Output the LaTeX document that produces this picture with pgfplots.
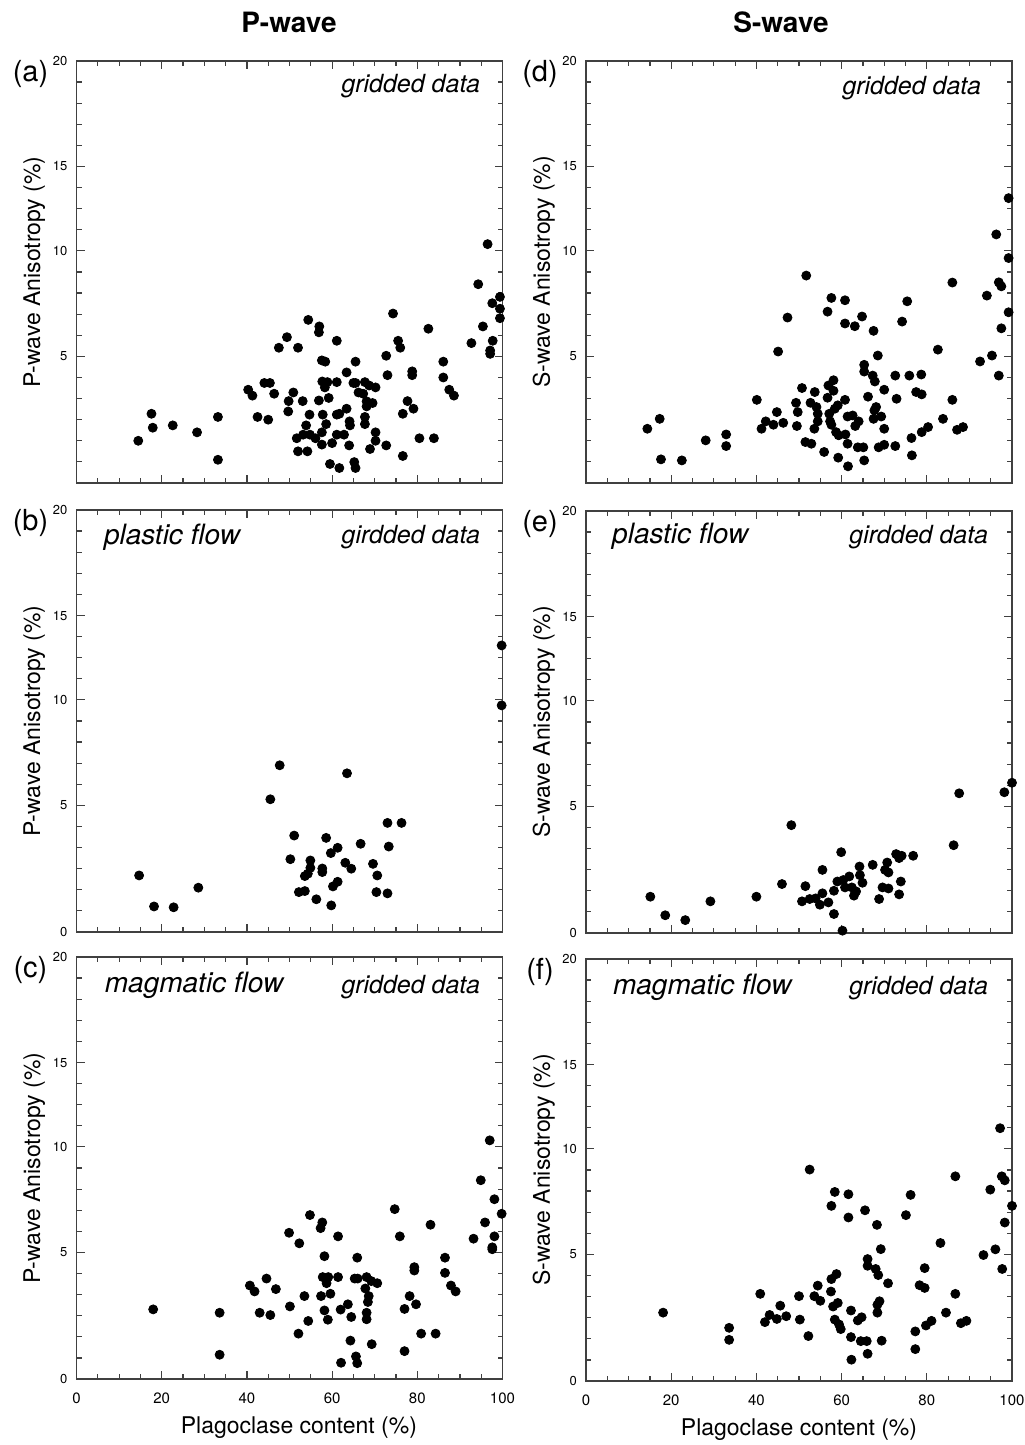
\documentclass[border=0pt]{standalone}
\usepackage{pgfplots}
\usepackage{pgfplotstable}
\pgfplotsset{compat=1.18}
\usepackage{fontspec}
\setmainfont{TeX Gyre Heros}

\pgfplotstableread{
x y
14.5 2.00
17.6 3.28
17.9 2.62
22.6 2.73
28.3 2.40
33.2 3.13
33.2 1.10
40.3 4.42
41.3 4.14
42.5 3.13
44.1 4.74
45.4 4.74
46.4 4.23
45.0 3.00
47.5 6.41
49.4 6.91
49.8 3.88
49.7 3.39
50.9 4.29
52.0 6.41
53.1 3.88
51.7 2.12
52.0 1.50
53.2 2.29
53.9 2.73
54.2 1.50
54.4 7.73
54.7 3.24
54.8 2.29
56.1 2.12
57.0 7.42
56.9 7.14
56.9 3.91
57.6 5.81
58.4 5.75
57.7 4.81
58.9 4.78
58.3 4.53
59.2 4.03
57.8 3.24
58.6 2.79
57.6 2.40
57.6 1.82
60.0 1.89
59.5 0.90
61.1 6.74
61.1 4.78
61.1 3.24
61.7 3.28
61.1 2.29
61.7 0.71
62.8 2.29
63.4 3.52
63.4 5.24
64.1 2.92
64.2 2.73
64.0 1.78
65.0 4.74
65.5 5.75
65.5 4.74
66.2 4.29
65.2 0.99
65.5 0.71
67.3 4.23
67.7 4.78
68.7 4.62
70.2 4.53
68.1 3.87
69.5 3.79
68.1 3.63
67.7 3.13
67.7 2.79
70.2 2.40
70.2 2.00
68.9 1.61
72.7 1.78
72.7 6.03
73.0 5.11
74.3 8.03
75.5 6.74
76.0 6.41
77.7 3.88
76.6 3.28
76.6 1.28
78.8 5.29
78.8 5.11
79.1 3.52
80.5 2.12
82.6 7.31
83.9 2.12
86.1 5.75
86.1 5.00
87.5 4.42
88.6 4.14
92.7 6.63
95.4 7.42
94.3 9.42
96.5 11.32
97.6 8.52
97.7 6.74
97.1 6.28
97.1 6.12
99.4 8.82
99.4 8.26
99.4 7.81
}\dataA

\pgfplotstableread{
x y
14.4 2.57
17.3 3.04
17.6 1.12
22.5 1.07
28.1 2.02
32.9 2.30
32.9 1.75
40.1 3.94
41.2 2.57
42.2 2.92
44.0 2.76
44.8 3.36
45.1 6.23
46.3 2.85
47.3 7.84
49.3 3.80
49.7 3.36
49.5 2.70
50.7 4.50
51.7 9.83
51.5 1.94
52.9 1.86
52.7 3.80
53.7 4.31
54.1 3.60
54.4 3.28
54.4 2.92
53.6 2.57
55.9 1.47
56.7 8.12
56.7 4.04
56.9 4.62
57.6 8.77
58.1 4.87
58.1 4.37
57.1 3.28
57.3 2.92
57.6 2.76
58.4 3.52
59.1 3.68
58.7 2.41
59.3 2.26
59.2 1.20
60.8 8.66
60.8 7.56
60.8 3.94
61.4 3.15
62.6 3.20
60.9 2.30
61.4 1.86
61.5 0.79
63.1 7.43
63.2 2.70
64.0 2.92
63.8 1.69
64.8 7.89
65.1 1.69
65.3 5.60
65.3 5.28
65.3 1.07
66.2 4.09
67.3 5.09
67.8 4.81
67.5 7.21
68.5 6.04
68.1 3.60
67.7 3.44
67.5 3.04
69.3 3.15
70.0 4.42
70.0 2.57
68.7 1.69
70.0 1.81
72.6 1.75
72.6 5.09
72.9 3.99
74.2 7.65
75.4 8.61
75.9 5.09
77.5 4.31
78.7 5.14
78.8 4.20
76.4 2.13
76.5 1.31
78.8 2.41
80.3 2.65
82.6 6.32
83.8 3.04
86.0 9.50
86.0 3.94
87.1 2.52
88.5 2.65
92.5 5.76
94.1 8.88
95.3 6.04
96.3 11.78
96.9 9.51
97.5 9.32
96.9 5.09
97.5 7.33
99.2 13.50
99.2 10.66
99.2 8.09
}\dataD

\pgfplotstableread{
x y
14.7 2.68
18.2 1.21
22.8 1.17
28.6 2.10
45.5 6.29
47.7 7.90
51.1 4.57
50.2 3.45
54.9 3.39
54.9 3.04
54.3 2.76
53.6 2.65
52.2 1.89
53.6 1.94
56.3 1.55
57.7 3.01
57.7 2.84
58.6 4.46
59.7 3.74
61.3 3.99
59.8 1.26
60.2 2.16
61.3 2.38
63.1 3.28
64.5 3.00
63.5 7.52
66.7 4.18
69.6 3.23
70.6 2.68
70.4 1.89
73.0 1.83
73.0 5.17
73.3 4.05
76.3 5.17
99.8 13.58
99.8 10.74
}\dataB

\pgfplotstableread{
x y
15.1 1.72
18.6 0.84
23.3 0.61
29.2 1.50
40.0 1.72
46.0 2.32
48.2 5.11
51.5 2.22
50.7 1.50
52.5 1.61
53.9 1.64
54.9 1.34
55.5 1.88
56.9 1.45
55.5 2.99
58.2 2.00
58.2 0.90
59.0 2.44
59.9 3.83
60.2 0.11
60.4 2.51
60.8 2.16
61.8 2.68
62.4 2.16
63.4 1.97
62.9 1.77
64.2 3.15
64.3 2.74
64.9 2.38
67.3 3.23
68.8 1.61
69.6 2.16
71.0 2.11
70.2 2.99
71.0 2.87
70.7 3.34
72.8 3.74
73.5 3.55
74.1 3.66
73.9 2.44
73.5 1.83
76.8 3.66
86.3 4.16
87.6 6.62
98.2 6.67
100.0 7.12
}\dataE

\pgfplotstableread{
x y
18.0 3.30
33.6 3.14
33.6 1.15
40.7 4.43
41.8 4.15
43.0 3.14
44.6 4.76
45.5 3.03
46.8 4.26
49.9 6.93
50.1 3.44
52.3 6.43
52.1 2.15
53.5 3.93
54.4 2.75
54.8 7.77
57.7 7.42
57.3 7.15
58.2 5.82
57.4 3.93
57.8 4.83
59.1 4.83
58.7 4.54
59.6 4.04
58.2 3.25
59.0 2.81
61.4 6.76
61.4 4.83
62.0 3.29
63.7 3.54
64.5 2.94
64.3 1.82
62.1 0.77
65.3 4.76
65.9 5.75
66.0 4.76
65.6 1.07
65.9 0.75
68.1 4.83
69.2 4.64
70.6 4.54
67.8 4.29
68.6 3.93
68.4 3.65
68.1 3.14
68.1 2.83
69.3 1.65
74.7 8.05
75.9 6.76
77.0 3.32
77.0 1.32
78.2 3.93
79.3 5.30
79.3 5.14
79.7 3.54
80.9 2.15
83.1 7.31
84.3 2.15
86.5 5.75
86.5 5.03
87.9 4.43
89.0 4.15
93.2 6.65
94.9 9.42
97.0 11.31
98.1 8.52
95.9 7.42
98.1 6.76
97.6 6.24
97.6 6.15
99.8 7.83
}\dataC

\pgfplotstableread{
x y
18.1 3.24
33.6 2.52
33.6 1.95
40.9 4.13
42.0 2.79
43.1 3.13
44.8 2.94
45.6 3.57
47.0 3.07
50.0 4.02
50.2 2.91
52.2 2.13
52.5 10.02
53.6 4.02
54.4 4.52
55.0 3.80
57.5 4.24
57.6 4.83
58.8 5.07
57.6 8.30
58.4 8.96
58.0 3.53
59.1 3.70
58.4 2.91
59.4 2.68
59.8 2.46
61.6 8.85
61.6 7.75
62.2 3.34
62.2 2.08
62.3 1.01
63.8 2.87
64.7 3.02
64.5 1.89
65.9 1.89
66.1 1.29
65.5 8.09
66.1 5.78
66.1 5.46
68.0 5.31
68.6 5.02
68.3 7.40
69.2 6.25
68.9 3.78
68.4 3.61
68.4 3.24
69.4 1.91
70.9 4.63
75.1 7.86
76.2 8.82
78.3 4.54
79.5 4.41
79.5 5.35
77.3 2.35
77.3 1.51
79.8 2.63
81.1 2.85
83.2 6.54
84.5 3.24
86.7 9.70
86.7 4.13
88.0 2.74
89.3 2.85
93.3 5.97
94.9 9.07
96.1 6.24
97.2 11.98
97.6 9.70
98.3 9.51
97.7 5.31
98.3 7.51
100.0 8.30
}\dataF

\pgfplotsset{
  panel/.style={
    scale only axis, width=213pt, height=211pt,
    xmin=0, xmax=100, ymin=0, ymax=20,
    clip=false,
    xtick={0,20,...,100}, minor x tick num=3,
    ytick={0,6,11,15,20}, yticklabels={0,5,10,15,20},
    minor ytick={1,2,3,4,5,7,8,9,10,12,13,14,16,17,18,19},
    tick align=inside,
    major tick length=4pt, minor tick length=2.5pt,
    axis line style={black!75, line width=0.7pt},
    every tick/.style={black!75, line width=0.6pt},
    /pgf/number format/assume math mode=true,
    yticklabel style={font=\fontsize{6.5}{7.5}\selectfont, xshift=-1pt},
    xticklabel style={font=\fontsize{7.5}{8.5}\selectfont, yshift=-3.5pt},
    label style={font=\fontsize{11.5}{13}\selectfont},
    ylabel style={at={(axis description cs:-0.099,0.5)}, anchor=center},
    xlabel style={at={(axis description cs:0.5,-0.116)}, anchor=center},
  },
  pts/.style={only marks, mark=*, mark size=2.25pt, black, mark options={fill=black, draw=black}},
}

\newcommand{\plab}[1]{\node[font=\fontsize{14.5}{16}\selectfont, anchor=center] at (rel axis cs:-0.108,0.970) {#1};}
\newcommand{\grid}[2]{\node[font=\fontsize{12.5}{14}\selectfont\itshape, anchor=east] at (rel axis cs:#1) {#2};}
\newcommand{\flow}[2]{\node[font=\fontsize{14}{16}\selectfont\itshape, anchor=west] at (rel axis cs:#1) {#2};}

\begin{document}
\begin{tikzpicture}
\path[use as bounding box] (0,0) rectangle (512pt,722.5pt);

\node[font=\fontsize{14}{16}\selectfont\bfseries] at (144.5pt,711.5pt) {P-wave};
\node[font=\fontsize{14}{16}\selectfont\bfseries] at (390.5pt,711.5pt) {S-wave};

% (a)
\begin{axis}[panel, at={(38.25pt,481pt)}, anchor=south west,
  xticklabels={}, yticklabels={,5,10,15,20},
  ylabel={P-wave Anisotropy (\%)}]
\addplot[pts] table[x=x,y=y] {\dataA};
\plab{(a)}
\grid{0.964,0.941}{gridded data}
\end{axis}

% (d)
\begin{axis}[panel, at={(293pt,481pt)}, anchor=south west,
  xticklabels={}, yticklabels={,5,10,15,20},
  ylabel={S-wave Anisotropy (\%)}]
\addplot[pts] table[x=x,y=y] {\dataD};
\plab{(d)}
\grid{0.944,0.936}{gridded data}
\end{axis}

% (b)
\begin{axis}[panel, at={(38.25pt,256.5pt)}, anchor=south west,
  xticklabels={},
  ylabel={P-wave Anisotropy (\%)}]
\addplot[pts] table[x=x,y=y] {\dataB};
\plab{(b)}
\grid{0.964,0.936}{girdded data}
\flow{0.048,0.936}{plastic flow}
\end{axis}

% (e)
\begin{axis}[panel, at={(293pt,256pt)}, anchor=south west,
  xticklabels={},
  ylabel={S-wave Anisotropy (\%)}]
\addplot[pts] table[x=x,y=y] {\dataE};
\plab{(e)}
\grid{0.96,0.938}{girdded data}
\flow{0.045,0.940}{plastic flow}
\end{axis}

% (c)
\begin{axis}[panel, at={(38.25pt,33pt)}, anchor=south west,
  ylabel={P-wave Anisotropy (\%)},
  xlabel={Plagoclase content (\%)},
  xlabel style={at={(axis description cs:0.522,-0.116)}}]
\addplot[pts] table[x=x,y=y] {\dataC};
\plab{(c)}
\grid{0.964,0.929}{gridded data}
\flow{0.05,0.932}{magmatic flow}
\end{axis}

% (f)
\begin{axis}[panel, at={(293pt,32pt)}, anchor=south west,
  ylabel={S-wave Anisotropy (\%)},
  xlabel={Plagoclase content (\%)}]
\addplot[pts] table[x=x,y=y] {\dataF};
\plab{(f)}
\grid{0.96,0.931}{gridded data}
\flow{0.047,0.932}{magmatic flow}
\end{axis}
\end{tikzpicture}
\end{document}
